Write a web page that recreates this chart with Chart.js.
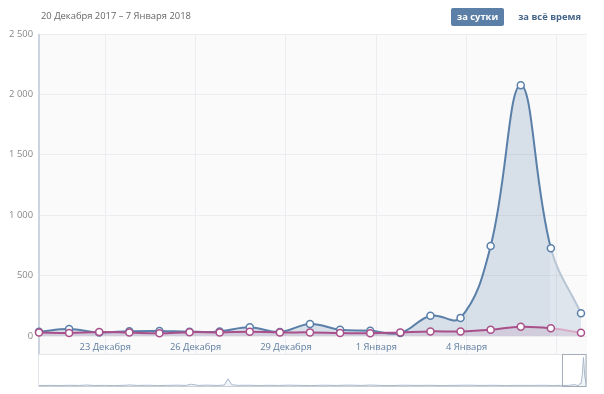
<!DOCTYPE html>
<html lang="ru">
<head>
<meta charset="UTF-8">
<title>Статистика</title>
<script src="https://cdn.jsdelivr.net/npm/chart.js"></script>
<style>
  html,body{margin:0;padding:0;background:#fff;width:604px;height:394px;overflow:hidden;font-family:"Open Sans",Arial,sans-serif}
  #wrap{position:relative;width:604px;height:394px}
  #period{position:absolute;left:41px;top:9px;font-size:9.4px;color:#666}
  #btns{position:absolute;right:17px;top:8px;font-size:9.4px;font-weight:bold}
  #btns span{display:inline-block;padding:2px 6px;line-height:14px;border-radius:2px;margin-left:8px;color:#46658a}
  #btns span.on{background:#5b7fa6;color:#fff}
  #main{position:absolute;left:0;top:0}
  #nav{position:absolute;left:0;top:354px}
</style>
</head>
<body>
<div id="wrap">
  <canvas id="main" width="604" height="355"></canvas>
  <canvas id="nav" width="604" height="34"></canvas>
  <div id="period">20 Декабря 2017 – 7 Января 2018</div>
  <div id="btns"><span class="on">за сутки</span><span>за всё время</span></div>
</div>

<script>
// days 20.12.2017 .. 07.01.2018
const days = ['20.12','21.12','22.12','23.12','24.12','25.12','26.12','27.12','28.12','29.12',
              '30.12','31.12','01.01','02.01','03.01','04.01','05.01','06.01','07.01'];
const views    = [35, 58, 30, 40, 42, 35, 38, 72, 33, 100, 52, 44, 25, 168, 150, 745, 2075, 727, 188];
const visitors = [30, 25, 33, 28, 22, 32, 30, 36, 30, 30, 25, 22, 30, 38, 38, 52, 77, 64, 27];

// x ticks sit a bit before the day points (midnight vs data stamp)
const tickDays   = [2.2, 5.2, 8.2, 11.2, 14.2, 17.2];
const tickLabels = ['23 Декабря', '26 Декабря', '29 Декабря', '1 Января', '4 Января', ''];

// overview strip ("за всё время"), day number from start -> value
const navDays   = [0, 8, 16, 24, 32, 38, 44, 52, 60, 68,
                   72, 78, 86, 94, 102, 110, 116, 121, 126, 134,
                   142, 147, 150, 153, 158, 166, 174, 182, 190, 198,
                   207, 216, 226, 236, 246, 256, 263, 270, 280, 290,
                   300, 310, 320, 330, 340, 350, 360, 370, 380, 390,
                   400, 408, 414, 420, 425, 427, 428, 429, 430, 431,
                   432, 433, 434];
const navValues = [30, 45, 35, 50, 40, 70, 35, 45, 30, 50,
                   75, 40, 55, 35, 45, 60, 40, 130, 45, 60,
                   40, 70, 520, 90, 45, 55, 35, 50, 40, 60,
                   45, 35, 55, 40, 65, 40, 70, 45, 35, 55,
                   40, 50, 35, 45, 60, 40, 50, 35, 45, 40,
                   50, 35, 45, 40, 100, 45, 25, 168, 150, 745,
                   2075, 727, 188];
const navSelFrom = 415;

const BLUE = '#5a7fa8', BLUE_FADE = '#b7c5d5';
const PINK = '#a9508a', PINK_FADE = '#d9acc7';
const last = days.length - 1;
const FONT = { family: 'Open Sans', size: 9.4 };

const fmt = v => String(v).replace(/\B(?=(\d{3})+(?!\d))/g, ' ');

const plotBg = {
  id: 'plotBg',
  beforeDraw(c) {
    const a = c.chartArea, x = c.scales.x, g = c.ctx;
    g.save();
    g.fillStyle = '#fafafb';
    g.fillRect(a.left, a.top, a.right - a.left, x.bottom - a.top);
    g.restore();
  },
  beforeDatasetsDraw(c) {
    const a = c.chartArea, x = c.scales.x, g = c.ctx;
    g.save();
    g.strokeStyle = '#ccd5df';
    g.lineWidth = 2;
    g.beginPath();
    g.moveTo(a.left, a.top);
    g.lineTo(a.left, x.bottom);
    g.stroke();
    g.restore();
  }
};

new Chart(document.getElementById('main'), {
  type: 'line',
  data: {
    datasets: [
      { label: 'Посетители', data: visitors.map((v, i) => ({x: i, y: v})),
        borderColor: PINK, backgroundColor: 'rgba(169,80,138,0.12)', fill: 'origin',
        borderWidth: 2, tension: 0.4, pointRadius: 3.5, pointBorderWidth: 1.5,
        pointBackgroundColor: '#fff', pointBorderColor: PINK, clip: false,
        segment: { borderColor: s => s.p1DataIndex === last ? PINK_FADE : undefined } },
      { label: 'Просмотры', data: views.map((v, i) => ({x: i, y: v})),
        borderColor: BLUE, backgroundColor: 'rgba(90,127,168,0.22)', fill: 'origin',
        borderWidth: 2, tension: 0.4, pointRadius: 3.5, pointBorderWidth: 1.5,
        pointBackgroundColor: '#fff', pointBorderColor: BLUE, clip: false,
        segment: {
          borderColor: s => s.p1DataIndex === last ? BLUE_FADE : undefined,
          backgroundColor: s => s.p1DataIndex === last ? 'rgba(90,127,168,0.17)' : undefined
        } }
    ]
  },
  options: {
    responsive: false, animation: false,
    layout: { padding: { top: 34, right: 17, left: 0, bottom: 0 } },
    plugins: { legend: { display: false }, tooltip: { enabled: false } },
    scales: {
      x: {
        type: 'linear', min: 0, max: 18.2,
        afterBuildTicks: s => { s.ticks = tickDays.map(v => ({ value: v })); },
        afterFit: s => { s.height = 19; },
        grid: { color: '#ebedf0', drawTicks: true, tickLength: 19, tickColor: '#ebedf0' },
        border: { display: false },
        ticks: { autoSkip: false, maxRotation: 0, padding: -13,
                 color: '#5f7e9f', font: FONT,
                 callback: (v, i) => tickLabels[i] }
      },
      y: {
        min: 0, max: 2500,
        afterFit: s => { s.width = 39; },
        grid: { color: '#ebedf0', drawTicks: false },
        border: { display: false },
        ticks: { stepSize: 500, padding: 6, color: '#888',
                 font: FONT, callback: v => fmt(v) }
      }
    }
  },
  plugins: [plotBg]
});

const navFrame = {
  id: 'navFrame',
  beforeDraw(c) {
    const a = c.chartArea, g = c.ctx;
    g.save();
    g.strokeStyle = '#e3e7ec';
    g.lineWidth = 1;
    g.strokeRect(a.left - 0.5, a.top - 0.5, a.right - a.left + 1, a.bottom - a.top + 1);
    g.restore();
  },
  afterDraw(c) {
    const a = c.chartArea, x = c.scales.x, g = c.ctx;
    g.save();
    g.strokeStyle = '#c9d0d8';
    g.beginPath();
    g.moveTo(a.left, a.bottom + 0.5);
    g.lineTo(a.right, a.bottom + 0.5);
    g.stroke();
    const x0 = Math.round(x.getPixelForValue(navSelFrom)) + 0.5;
    g.strokeStyle = '#a3adb8';
    g.strokeRect(x0, a.top - 0.5, a.right - x0, a.bottom - a.top + 1);
    g.restore();
  }
};

new Chart(document.getElementById('nav'), {
  type: 'line',
  data: {
    datasets: [{
      data: navDays.map((d, i) => ({x: d, y: navValues[i]})),
      borderColor: '#a9b9ca', backgroundColor: 'rgba(90,127,168,0.08)', fill: 'origin',
      borderWidth: 1, pointRadius: 0, tension: 0
    }]
  },
  options: {
    responsive: false, animation: false,
    layout: { padding: { top: 1, right: 18, left: 39, bottom: 2 } },
    plugins: { legend: { display: false }, tooltip: { enabled: false } },
    scales: {
      x: { type: 'linear', min: 0, max: 434, display: false },
      y: { min: 0, max: 2250, display: false }
    }
  },
  plugins: [navFrame]
});
</script>
</body>
</html>
